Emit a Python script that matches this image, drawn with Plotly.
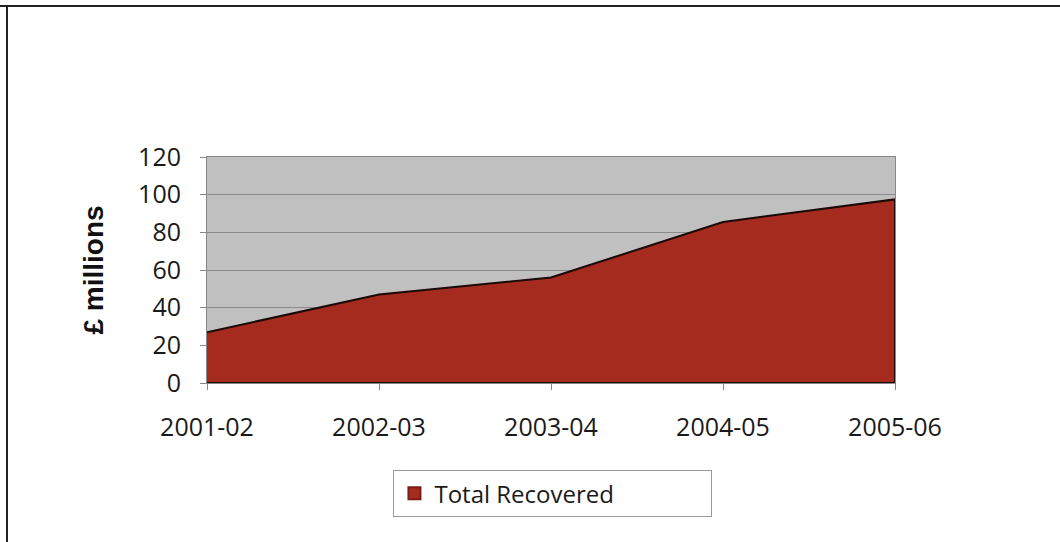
import plotly.graph_objects as go

categories = ["2001-02", "2002-03", "2003-04", "2004-05", "2005-06"]
total_recovered = [27, 47, 56, 85.5, 97.5]
y_ticks = [0, 20, 40, 60, 80, 100, 120]

RED = "#a42b1e"
TXT = "#1a1a1a"

fig = go.Figure()
# closed area polygon (top edge then back along zero)
fig.add_trace(go.Scatter(
    x=categories + categories[::-1],
    y=total_recovered + [0] * len(categories),
    fill="toself", fillcolor=RED, mode="lines",
    line=dict(color="#1a0a08", width=2),
    showlegend=False, hoverinfo="skip"))
# legend entry
fig.add_trace(go.Scatter(
    x=[None], y=[None], mode="markers", name="Total Recovered",
    marker=dict(symbol="square", size=21, color=RED,
                line=dict(color="#7a1f15", width=1))))

fig.update_layout(
    width=1060, height=542,
    margin=dict(l=207, r=165, t=157, b=159),
    paper_bgcolor="white", plot_bgcolor="#c0c0c0",
    font=dict(family="Open Sans", size=25, color=TXT),
    xaxis=dict(type="category", range=[0, 4], showgrid=False,
               ticks="outside", ticklen=6, tickcolor="#888888",
               ticklabelstandoff=16,
               showline=True, linecolor="#888888", linewidth=1, mirror=True,
               tickfont=dict(size=25, color=TXT), zeroline=False),
    yaxis=dict(range=[0, 120], tickvals=y_ticks, showgrid=True,
               gridcolor="#8a8a8a", gridwidth=1,
               ticks="outside", ticklen=6, tickcolor="#888888",
               ticklabelstandoff=14,
               showline=True, linecolor="#888888", linewidth=1, mirror=True,
               tickfont=dict(size=25, color=TXT), zeroline=False,
               title=dict(text="£ millions", standoff=26,
                          font=dict(family="Liberation Sans", size=28,
                                    weight="bold", color="#111111"))),
    legend=dict(orientation="h", x=0.271, y=-0.386, xanchor="left", yanchor="top",
                bgcolor="white", bordercolor="#999999", borderwidth=1,
                entrywidth=272, font=dict(size=24, color=TXT),
                itemsizing="constant", tracegroupgap=0),
    showlegend=True,
)

# outer frame (top and left edges of the picture)
fig.add_shape(type="line", xref="paper", yref="paper",
              x0=-207/688, x1=(1060-207)/688, y0=1+(157-6)/226, y1=1+(157-6)/226,
              line=dict(color="#222222", width=2))
fig.add_shape(type="line", xref="paper", yref="paper",
              x0=-(207-7)/688, x1=-(207-7)/688, y0=1+(157-6)/226, y1=-(542-383)/226,
              line=dict(color="#222222", width=2))

fig.write_html("out.html")
